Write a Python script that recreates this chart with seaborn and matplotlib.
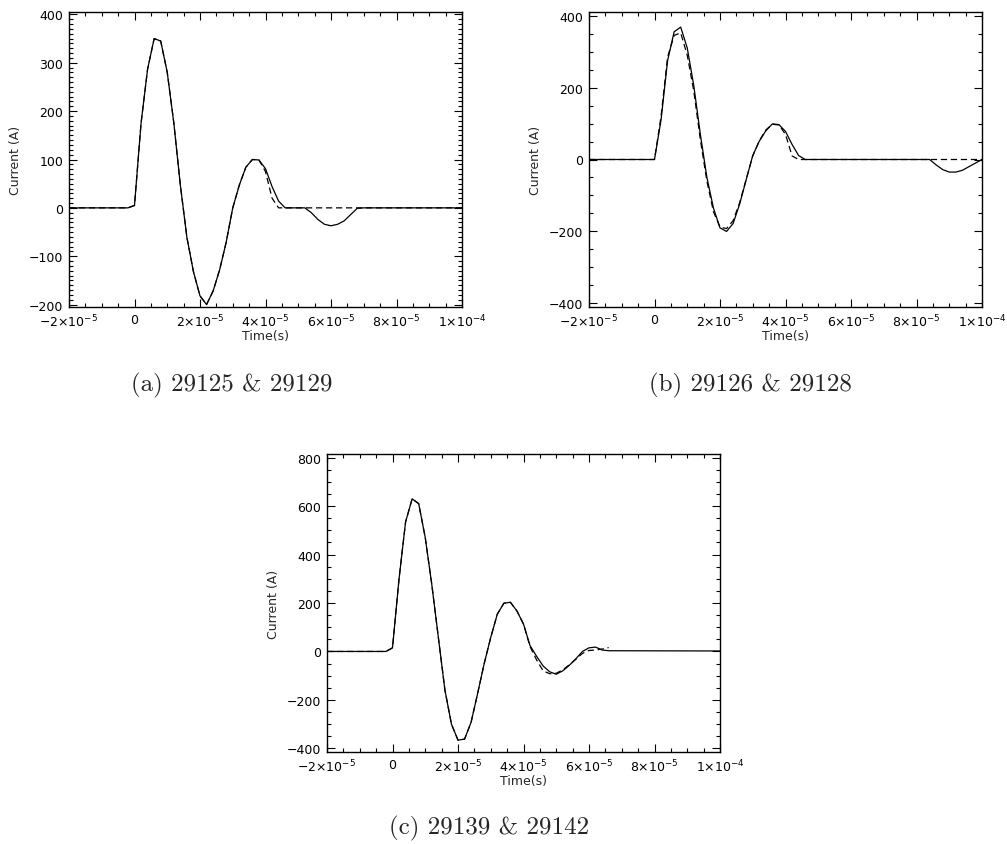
import numpy as np
import pandas as pd
import matplotlib
matplotlib.use("Agg")
import matplotlib.pyplot as plt
import seaborn as sns
from matplotlib.ticker import MultipleLocator

# ---------------- data (time in units of 1e-5 s, current in A) ----------------
t_a_solid = [-2.0, -0.2, 0.0, 0.2, 0.4, 0.6, 0.8, 1.0, 1.2, 1.4, 1.6, 1.8, 2.0, 2.2, 2.4,
             2.6, 2.8, 3.0, 3.2, 3.4, 3.6, 3.8, 4.0, 4.2, 4.4, 4.6, 5.2, 5.4, 5.6, 5.8,
             6.0, 6.2, 6.4, 6.6, 6.8, 7.0, 10.0]
i_a_solid = [0, 0, 5, 175, 287, 350, 345, 280, 176, 47, -61, -132, -182, -200, -172,
             -128, -71, 0, 47, 84, 100, 99, 81, 44, 14, 0, 0, -10, -24, -34,
             -37, -34, -27, -14, -1, 0, 0]
t_a_dash = [-2.0, -0.2, 0.0, 0.2, 0.4, 0.6, 0.8, 1.0, 1.2, 1.4, 1.6, 1.8, 2.0, 2.2, 2.4,
            2.6, 2.8, 3.0, 3.2, 3.4, 3.6, 3.8, 4.0, 4.2, 4.4, 10.0]
i_a_dash = [0, 0, 5, 175, 287, 350, 345, 280, 176, 47, -61, -132, -182, -200, -172,
            -128, -71, 0, 47, 84, 100, 99, 75, 20, 0, 0]

t_b_solid = [-2.0, -0.2, 0.0, 0.2, 0.4, 0.6, 0.8, 1.0, 1.2, 1.4, 1.6, 1.8, 2.0, 2.2, 2.4,
             2.6, 2.8, 3.0, 3.2, 3.4, 3.6, 3.8, 4.0, 4.2, 4.4, 4.6, 8.4, 8.6, 8.8, 9.0,
             9.2, 9.4, 9.6, 9.8, 10.0]
i_b_solid = [0, 0, 0, 110, 275, 355, 368, 310, 205, 70, -50, -135, -190, -200, -178,
             -124, -56, 11, 51, 80, 99, 97, 78, 42, 11, 0, 0, -15, -28, -35,
             -35, -30, -20, -10, 0]
t_b_dash = [-2.0, -0.2, 0.0, 0.2, 0.4, 0.6, 0.8, 1.0, 1.2, 1.4, 1.6, 1.8, 2.0, 2.2, 2.4,
            2.6, 2.8, 3.0, 3.2, 3.4, 3.6, 3.8, 4.0, 4.2, 4.4, 10.0]
i_b_dash = [0, 0, 0, 120, 285, 345, 352, 290, 190, 55, -60, -145, -188, -192, -170,
            -120, -55, 10, 52, 82, 98, 96, 70, 10, 0, 0]

t_c_solid = [-2.0, -0.2, 0.0, 0.2, 0.4, 0.6, 0.8, 1.0, 1.2, 1.4, 1.6, 1.8, 2.0, 2.2, 2.4,
             2.6, 2.8, 3.0, 3.2, 3.4, 3.6, 3.8, 4.0, 4.2, 4.4, 4.6, 4.8, 5.0, 5.2, 5.4,
             5.6, 5.8, 6.0, 6.2, 6.4, 6.6, 10.0]
i_c_solid = [0, 0, 15, 300, 535, 630, 610, 470, 276, 58, -159, -300, -366, -362, -292,
             -173, -50, 58, 154, 199, 203, 167, 113, 24, -20, -60, -84, -94, -80, -57,
             -30, 0, 15, 18, 6, 3, 2]
t_c_dash = [-2.0, -0.2, 0.0, 0.2, 0.4, 0.6, 0.8, 1.0, 1.2, 1.4, 1.6, 1.8, 2.0, 2.2, 2.4,
            2.6, 2.8, 3.0, 3.2, 3.4, 3.6, 3.8, 4.0, 4.2, 4.4, 4.6, 4.8, 5.0, 5.2, 5.4,
            5.6, 5.8, 6.0, 6.2, 6.4, 6.6]
i_c_dash = [0, 0, 15, 300, 535, 630, 610, 470, 276, 58, -159, -300, -366, -362, -292,
            -173, -50, 58, 154, 199, 203, 167, 113, 20, -35, -80, -92, -90, -76, -55,
            -32, -8, 4, 6, 10, 16]

captions = ["(a) 29125 & 29129", "(b) 29126 & 29128", "(c) 29139 & 29142"]
x_ticks = [-2, 0, 2, 4, 6, 8, 10]
x_tick_labels = [r"$-2{\times}10^{-5}$", "0", r"$2{\times}10^{-5}$", r"$4{\times}10^{-5}$",
                 r"$6{\times}10^{-5}$", r"$8{\times}10^{-5}$", r"$1{\times}10^{-4}$"]

# ---------------- style ----------------
sns.set_style("ticks")
plt.rcParams["font.family"] = ["DejaVu Sans"]
plt.rcParams["mathtext.fontset"] = "dejavusans"

fig = plt.figure(figsize=(10.07, 8.45), dpi=100)
W = 393 / 1007
axes_pos = [
    [69 / 1007, 1 - 308 / 845, W, 295 / 845],
    [589 / 1007, 1 - 308 / 845, W, 295 / 845],
    [327 / 1007, 1 - 753 / 845, W, 298 / 845],
]
panels = [
    (t_a_solid, i_a_solid, t_a_dash, i_a_dash, (-205, 405), 10, [-200, -100, 0, 100, 200, 300, 400]),
    (t_b_solid, i_b_solid, t_b_dash, i_b_dash, (-410, 410), 50, [-400, -200, 0, 200, 400]),
    (t_c_solid, i_c_solid, t_c_dash, i_c_dash, (-415, 815), 50, [-400, -200, 0, 200, 400, 600, 800]),
]
cap_pos = [(232, 385), (750, 385), (489, 828)]


def fmt(v):
    return str(v).replace("-", "\u2212")


for k, (ts, ys, td, yd, ylim, ymin, yt) in enumerate(panels):
    ax = fig.add_axes(axes_pos[k])
    df_s = pd.DataFrame({"t": np.array(ts) * 1e-5, "I": ys})
    df_d = pd.DataFrame({"t": np.array(td) * 1e-5, "I": yd})
    sns.lineplot(data=df_d, x="t", y="I", ax=ax, color="black", lw=0.9,
                 linestyle=(0, (5, 3)), estimator=None, sort=False)
    sns.lineplot(data=df_s, x="t", y="I", ax=ax, color="black", lw=0.9,
                 estimator=None, sort=False)
    ax.set_xlim(-2e-5, 1e-4)
    ax.set_ylim(*ylim)
    ax.set_xticks([v * 1e-5 for v in x_ticks])
    ax.set_xticklabels(x_tick_labels)
    ax.xaxis.set_minor_locator(MultipleLocator(0.5e-5))
    ax.set_yticks(yt)
    ax.set_yticklabels([fmt(v) for v in yt])
    ax.yaxis.set_minor_locator(MultipleLocator(ymin))
    ax.tick_params(which="both", direction="in", top=True, right=True,
                   labelsize=9, width=0.8, colors="black")
    ax.tick_params(which="major", length=6, pad=4)
    ax.tick_params(which="minor", length=3)
    for sp in ax.spines.values():
        sp.set_linewidth(1.0)
        sp.set_color("black")
    ax.set_xlabel("Time(s)", fontsize=9, labelpad=0)
    ax.set_ylabel("Current (A)", fontsize=9, labelpad=5)
    fig.text(cap_pos[k][0] / 1007, 1 - cap_pos[k][1] / 845, captions[k],
             ha="center", va="center", fontsize=18, family=["cmr10", "DejaVu Serif"])

fig.savefig("out.png", dpi=100)
